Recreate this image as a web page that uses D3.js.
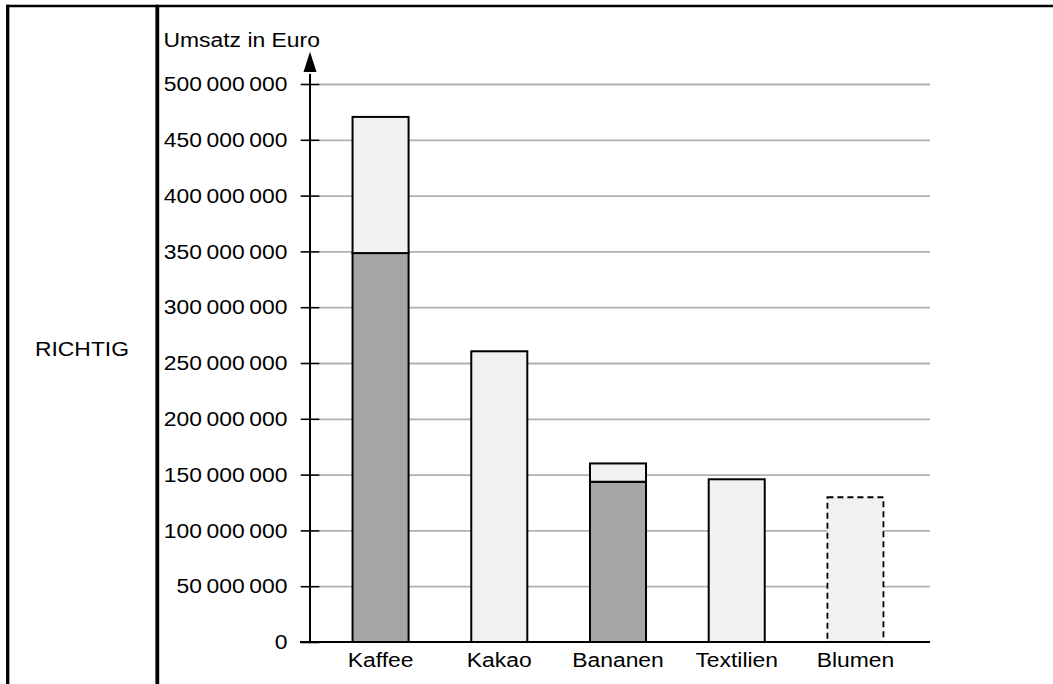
<!DOCTYPE html>
<html>
<head>
<meta charset="utf-8">
<script src="https://cdn.jsdelivr.net/npm/d3@7"></script>
<style>
  html, body { margin: 0; padding: 0; background: #fff; }
  svg { display: block; font-family: "Liberation Sans", Arial, sans-serif; }
</style>
</head>
<body>
<svg id="chart" width="1053" height="684"></svg>
<script>
// Umsatz nach Produktgruppe (Euro)
const kategorien   = ["Kaffee", "Kakao", "Bananen", "Textilien", "Blumen"];
const gesamtUmsatz = [470.5e6, 260.5e6, 160e6, 145.8e6, 129.7e6];
const sockelUmsatz = [348.5e6, 0, 143.6e6, 0, 0];
const geschaetzt   = ["Blumen"];
const yTickWerte   = [0, 50e6, 100e6, 150e6, 200e6, 250e6, 300e6, 350e6, 400e6, 450e6, 500e6];
const achsenTitel  = "Umsatz in Euro";
const zeilenTitel  = "RICHTIG";

const W = 1053, H = 684;
const FONT = 21;
const STRETCH = 1.09;           // leicht gedehnte Schrift
const svg = d3.select("#chart");

svg.append("rect").attr("width", W).attr("height", H).attr("fill", "#fff");

// Text horizontal gedehnt um seinen Ankerpunkt
function dehne(sel) {
  sel.each(function () {
    const t = d3.select(this);
    const x = +t.attr("x") || 0, y = +t.attr("y") || 0;
    t.attr("x", 0).attr("y", 0)
     .attr("transform", `translate(${x},${y}) scale(${STRETCH},1)`);
  });
}

// Tabellenrahmen
const rahmen = svg.append("g").attr("stroke", "#000").attr("fill", "none");
rahmen.append("line").attr("x1", 6).attr("x2", W).attr("y1", 6).attr("y2", 6).attr("stroke-width", 2.6);
rahmen.append("line").attr("x1", 7.7).attr("x2", 7.7).attr("y1", 4.7).attr("y2", H).attr("stroke-width", 3.3);
rahmen.append("line").attr("x1", 157.3).attr("x2", 157.3).attr("y1", 4.7).attr("y2", H).attr("stroke-width", 3.8);

svg.append("text")
  .attr("x", 82).attr("y", 356)
  .attr("text-anchor", "middle")
  .attr("font-size", FONT).attr("fill", "#000")
  .text(zeilenTitel)
  .call(dehne);

// Skalen
const y = d3.scaleLinear().domain([0, 500e6]).range([642, 84]);
const x = d3.scaleBand().domain(kategorien)
  .range([311, 925]).paddingInner(0.528).paddingOuter(0.35);

const fmt = d3.formatLocale({ decimal: ",", thousands: "\u2009", grouping: [3], currency: ["", " €"] }).format(",d");

// Gitterlinien
const gitter = svg.append("g").attr("transform", "translate(319,0)")
  .call(d3.axisRight(y).tickValues(yTickWerte.filter(v => v > 0)).tickSize(611).tickFormat(""));
gitter.select(".domain").remove();
gitter.selectAll(".tick line").attr("stroke", "#b0b0b0").attr("stroke-width", 1.8);

// Balken
const balken = svg.append("g");
kategorien.forEach((k, i) => {
  const gestrichelt = geschaetzt.includes(k);
  if (sockelUmsatz[i] > 0) {
    balken.append("rect")
      .attr("x", x(k)).attr("width", x.bandwidth())
      .attr("y", y(sockelUmsatz[i])).attr("height", y(0) - y(sockelUmsatz[i]))
      .attr("fill", "#a6a6a6").attr("stroke", "#000").attr("stroke-width", 2);
  }
  balken.append("rect")
    .attr("x", x(k)).attr("width", x.bandwidth())
    .attr("y", y(gesamtUmsatz[i])).attr("height", y(sockelUmsatz[i]) - y(gesamtUmsatz[i]))
    .attr("fill", "#f1f1f1").attr("stroke", "#000")
    .attr("stroke-width", gestrichelt ? 1.8 : 2)
    .attr("stroke-dasharray", gestrichelt ? "6,4" : null);
});

// y-Achse
const yAchse = svg.append("g").attr("transform", "translate(310,0)")
  .call(d3.axisLeft(y).tickValues(yTickWerte).tickFormat(fmt).tickSize(9.3).tickPadding(13.2));
yAchse.select(".domain").remove();
yAchse.selectAll(".tick line").attr("x1", -9.3).attr("x2", 9.3).attr("stroke", "#000").attr("stroke-width", 1.6);
yAchse.selectAll(".tick text").attr("font-size", FONT).attr("fill", "#000").call(dehne);
yAchse.attr("font-family", null);

// x-Achse
const xAchse = svg.append("g").attr("transform", `translate(0,${y(0)})`)
  .call(d3.axisBottom(x).tickSize(0).tickPadding(10.1));
xAchse.select(".domain").remove();
xAchse.selectAll(".tick text").attr("font-size", FONT).attr("fill", "#000").call(dehne);
xAchse.attr("font-family", null);

// Achsenlinien mit Pfeil
svg.append("line").attr("x1", 300).attr("x2", 930).attr("y1", y(0)).attr("y2", y(0))
  .attr("stroke", "#000").attr("stroke-width", 2);
const pfeilBasis = y(500e6) - 12, pfeilSpitze = y(500e6) - 32.3;
svg.append("line").attr("x1", 310).attr("x2", 310).attr("y1", y(0)).attr("y2", pfeilBasis + 2)
  .attr("stroke", "#000").attr("stroke-width", 2);
svg.append("path")
  .attr("d", `M310,${pfeilSpitze} L316.5,${pfeilBasis} L303.5,${pfeilBasis} Z`)
  .attr("fill", "#000");

svg.append("text")
  .attr("x", 163.5).attr("y", 46.7)
  .attr("font-size", FONT).attr("fill", "#000")
  .text(achsenTitel)
  .call(dehne);
</script>
</body>
</html>
